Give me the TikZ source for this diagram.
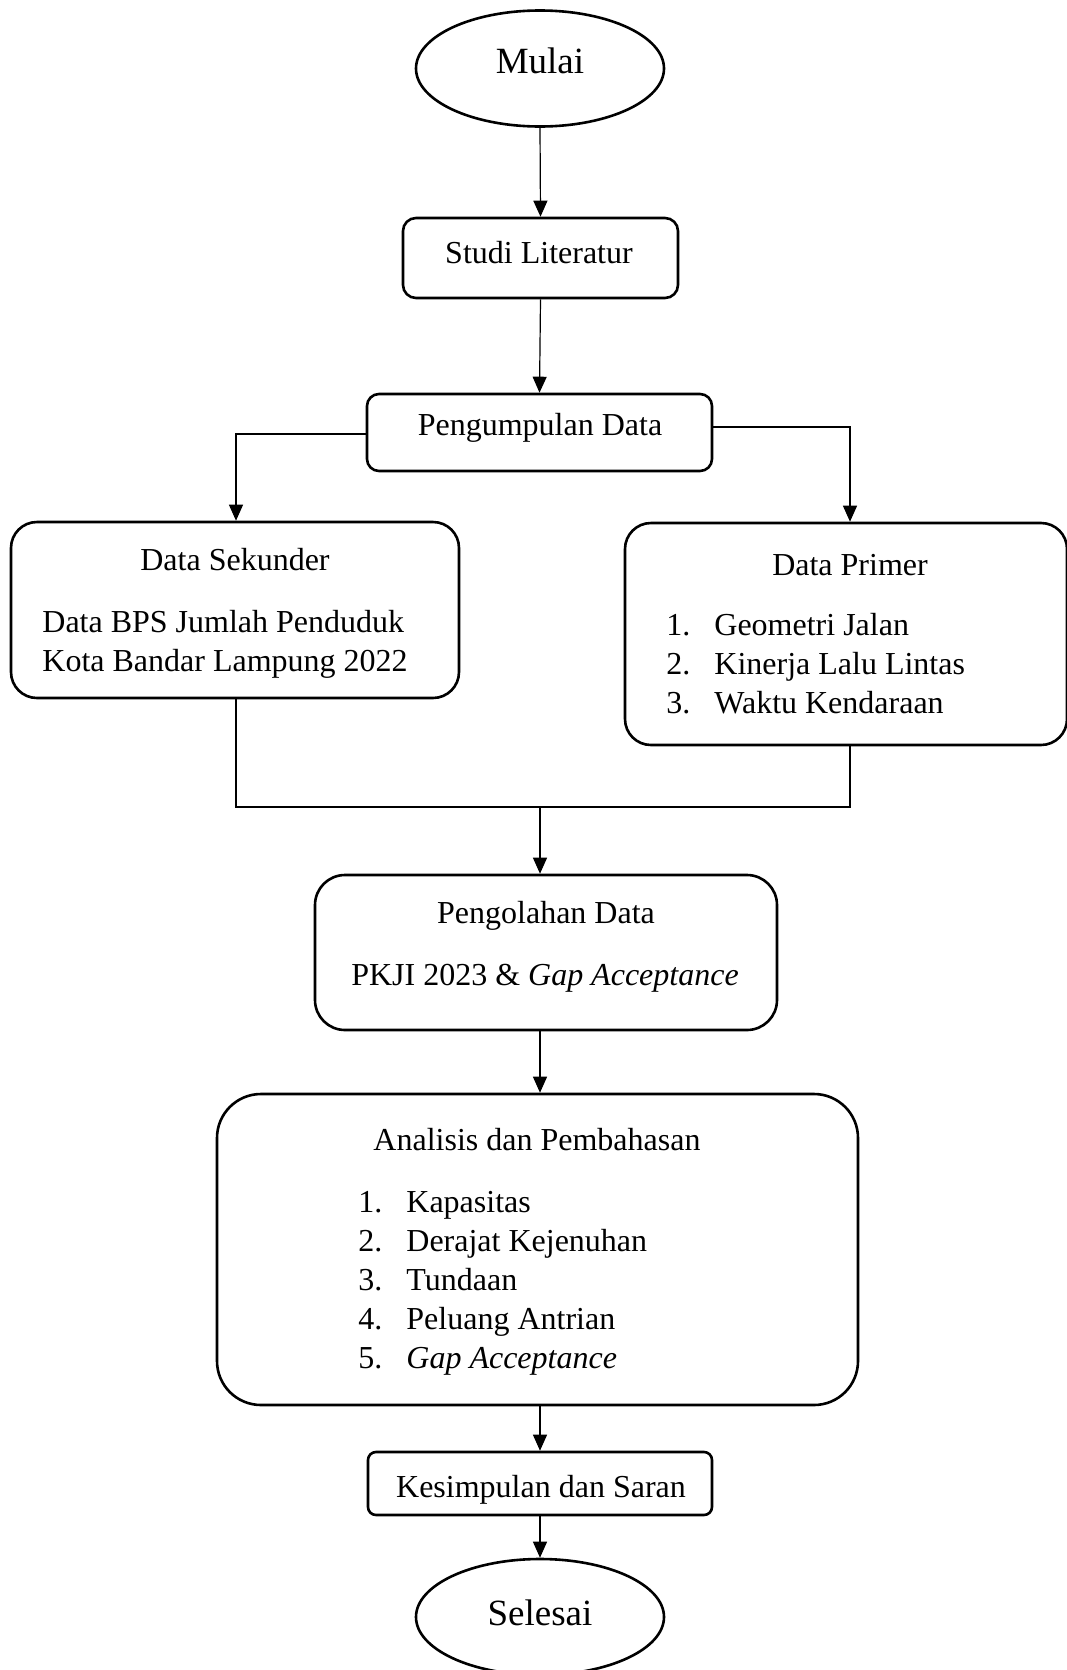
\documentclass[tikz,border=0pt]{standalone}
\usepackage{fontspec}
\setmainfont{Liberation Serif}
\usetikzlibrary{arrows.meta,shapes.geometric}

\begin{document}
\begin{tikzpicture}[x=0.5pt,y=-0.5pt,
  kotak/.style={draw, line width=1.3pt, inner sep=0pt},
  oval/.style={draw, ellipse, line width=1.3pt, inner sep=0pt, minimum width=124pt, minimum height=58pt},
  teks/.style={inner sep=0pt, anchor=base, font=\fontsize{16}{19.6}\selectfont},
  panah/.style={line width=0.6pt, -{Triangle[length=8pt,width=7pt]}},
  garis/.style={line width=0.6pt}]
\useasboundingbox (0,0) rectangle (1066,1670);

% awal
\node[oval] (mulai) at (540,68.5) {};
\node[teks, font=\fontsize{18.5}{22}\selectfont] (tmulai) at (540,73) {Mulai};

\node[kotak, rounded corners=6.5pt, minimum width=137.5pt, minimum height=40pt] (studi) at (540.5,258) {};
\node[teks] (tstudi) at (539,263) {Studi Literatur};

\node[kotak, rounded corners=6pt, minimum width=172.5pt, minimum height=38.5pt] (kumpul) at (539.5,432.5) {};
\node[teks] (tkumpul) at (540,435) {Pengumpulan Data};

% data sekunder dan primer
\node[kotak, rounded corners=13pt, minimum width=224pt, minimum height=88pt] (sekunder) at (235,610) {};
\node[teks] (tsekunder) at (235,570) {Data Sekunder};
\node[teks, anchor=base west] (isisekunder) at (42,632) {\begin{tabular}[t]{@{}l@{}}
    Data BPS Jumlah Penduduk\\
    Kota Bandar Lampung 2022
  \end{tabular}};

\node[kotak, rounded corners=13pt, minimum width=221pt, minimum height=111pt] (primer) at (846,634) {};
\node[teks] (tprimer) at (850,575) {Data Primer};
\node[teks, anchor=base west] (isiprimer) at (666,635) {\begin{tabular}[t]{@{}p{24pt}@{}l@{}}
    1. & Geometri Jalan\\
    2. & Kinerja Lalu Lintas\\
    3. & Waktu Kendaraan
  \end{tabular}};

% pengolahan
\node[kotak, rounded corners=15pt, minimum width=231pt, minimum height=77.5pt] (olah) at (546,952.5) {};
\node[teks] (tolah) at (546,923) {Pengolahan Data};
\node[teks] (isiolah) at (545,985) {PKJI 2023 \& \textit{Gap Acceptance}};

\node[kotak, rounded corners=22pt, minimum width=320.5pt, minimum height=155.5pt] (analisis) at (537.5,1249.5) {};
\node[teks] (tanalisis) at (537,1150) {Analisis dan Pembahasan};
\node[teks, anchor=base west] (isianalisis) at (358,1212) {\begin{tabular}[t]{@{}p{24pt}@{}l@{}}
    1. & Kapasitas\\
    2. & Derajat Kejenuhan\\
    3. & Tundaan\\
    4. & Peluang Antrian\\
    5. & \textit{Gap Acceptance}
  \end{tabular}};

% akhir
\node[kotak, rounded corners=4pt, minimum width=172pt, minimum height=31.5pt] (simpul) at (540,1483.5) {};
\node[teks] (tsimpul) at (541,1497) {Kesimpulan dan Saran};

\node[oval] (selesai) at (540,1617) {};
\node[teks, font=\fontsize{18.5}{22}\selectfont] (tselesai) at (540,1625) {Selesai};

% panah
\coordinate (gabung) at (540,807);
\draw[panah] (mulai.south) -- (studi.north);
\draw[panah] (studi.south) -- (kumpul.north);
\draw[panah] ([yshift=-0.75pt]kumpul.west) -| ([xshift=0.5pt]sekunder.north);
\draw[panah] ([yshift=2.75pt]kumpul.east) -| ([xshift=2pt]primer.north);
\draw[garis] ([xshift=0.5pt]sekunder.south) |- (gabung) -| ([xshift=2pt]primer.south);
\draw[panah] (gabung) -- (gabung |- olah.north);
\draw[panah] (gabung |- olah.south) -- (gabung |- analisis.north);
\draw[panah] (gabung |- analisis.south) -- (gabung |- simpul.north);
\draw[panah] (simpul.south) -- (selesai.north);
\end{tikzpicture}
\end{document}
